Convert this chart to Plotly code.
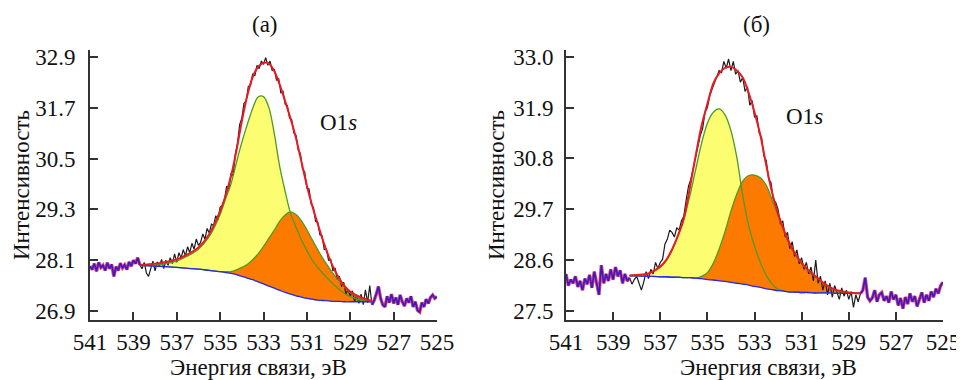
import plotly.graph_objects as go

# ---------------- data: panel (а) ----------------
start_a = 541.0
step = 0.1
noisy_a = [
    27.96, 27.88, 28.02, 27.84, 28.05, 27.93, 27.98, 27.86, 28.04, 27.90,
    28.00, 27.72, 27.95, 27.86, 28.03, 27.92, 27.99, 27.88, 28.06, 27.96,
    28.10, 28.02, 28.16, 27.99, 27.90, 28.05, 27.80, 27.72, 27.92, 28.08,
    27.85, 28.06, 27.95, 28.12, 27.90, 28.10, 27.98, 28.16, 28.02, 28.25,
    28.05, 28.28, 28.15, 28.35, 28.20, 28.42, 28.28, 28.50, 28.36, 28.60,
    28.45, 28.52, 28.72, 28.60, 28.85, 28.74, 28.95, 28.92, 29.15, 29.05,
    29.35, 29.40, 29.52, 29.85, 29.78, 30.15, 30.10, 30.60, 30.85, 31.30,
    31.45, 31.80, 31.85, 32.20, 32.22, 32.50, 32.45, 32.70, 32.62, 32.80,
    32.72, 32.88, 32.70, 32.80, 32.58, 32.60, 32.35, 32.38, 32.05, 32.08,
    31.78, 31.75, 31.45, 31.42, 31.10, 31.05, 30.70, 30.62, 30.25, 30.18,
    29.80, 29.78, 29.42, 29.35, 29.02, 29.00, 28.70, 28.68, 28.35, 28.36,
    28.10, 28.12, 27.85, 27.92, 27.65, 27.72, 27.48, 27.58, 27.30, 27.42,
    27.25, 27.38, 27.12, 27.28, 27.08, 27.30, 27.05, 27.40, 27.10, 27.50,
    27.05, 27.15, 27.30, 27.48, 27.20, 27.05, 27.00, 27.25, 27.10, 27.30,
    27.08, 27.22, 27.05, 27.28, 27.12, 27.02, 27.20, 27.10, 27.25, 27.00,
    27.12, 26.92, 26.88, 27.10, 27.00, 27.18, 27.08, 27.22, 27.28, 27.20,
    27.24,
]
fit_lo_a, fit_hi_a = 528.0, 538.7

energy_fit_a = [538.7, 538.0, 537.5, 537.0, 536.5, 536.0, 535.5, 535.0, 534.75, 534.5,
                534.25, 534.0, 533.75, 533.5, 533.25, 533.0, 532.75, 532.5, 532.25, 532.0,
                531.75, 531.5, 531.25, 531.0, 530.75, 530.5, 530.25, 530.0, 529.75, 529.5,
                529.25, 529.0, 528.5, 528.0]
background_a = [27.98, 27.96, 27.95, 27.93, 27.91, 27.89, 27.86, 27.83, 27.81, 27.79,
                27.76, 27.72, 27.68, 27.64, 27.59, 27.54, 27.49, 27.44, 27.39, 27.34,
                27.30, 27.26, 27.23, 27.20, 27.18, 27.16, 27.15, 27.14, 27.13, 27.13,
                27.12, 27.12, 27.12, 27.12]
peak1_a = [27.98, 27.99, 28.02, 28.08, 28.20, 28.36, 28.66, 29.18, 29.55, 29.90,
           30.40, 30.88, 31.30, 31.68, 31.95, 31.96, 31.70, 31.08, 30.30, 29.72,
           29.20, 28.88, 28.58, 28.33, 28.10, 27.93, 27.78, 27.65, 27.52, 27.41,
           27.31, 27.24, 27.15, 27.12]
peak2_a = [27.98, 27.96, 27.95, 27.93, 27.91, 27.89, 27.86, 27.83, 27.83, 27.83,
           27.87, 27.93, 28.00, 28.11, 28.25, 28.42, 28.62, 28.81, 29.02, 29.17,
           29.24, 29.18, 29.03, 28.82, 28.58, 28.35, 28.13, 27.94, 27.76, 27.60,
           27.46, 27.34, 27.18, 27.12]
envelope_a = [27.99, 28.02, 28.06, 28.12, 28.24, 28.40, 28.72, 29.26, 29.62, 30.08,
              30.68, 31.38, 31.98, 32.42, 32.66, 32.76, 32.74, 32.56, 32.24, 31.85,
              31.44, 30.98, 30.42, 29.86, 29.38, 28.96, 28.55, 28.20, 27.90, 27.66,
              27.48, 27.36, 27.22, 27.14]
yticks_a = [26.9, 28.1, 29.3, 30.5, 31.7, 32.9]
ytext_a = ["26.9", "28.1", "29.3", "30.5", "31.7", "32.9"]

# ---------------- data: panel (б) ----------------
start_b = 541.0
noisy_b = [
    28.30, 28.05, 28.18, 28.10, 28.25, 28.02, 28.15, 27.95, 28.20, 28.08,
    28.28, 28.00, 28.35, 28.12, 27.85, 28.49, 28.10, 28.30, 28.15, 28.40,
    28.18, 28.45, 28.25, 28.38, 28.10, 28.30, 28.15, 28.22, 28.08, 28.18,
    28.25, 28.10, 27.95, 28.13, 28.35, 28.20, 28.40, 28.30, 28.55, 28.42,
    28.55, 28.62, 28.95, 29.05, 29.25, 29.20, 29.10, 29.30, 29.25, 29.45,
    29.55, 29.90, 30.20, 30.35, 30.60, 30.85, 31.05, 31.30, 31.45, 31.80,
    31.90, 32.15, 32.30, 32.42, 32.55, 32.70, 32.65, 32.90, 32.75, 32.95,
    32.70, 32.90, 32.62, 32.70, 32.45, 32.55, 32.25, 32.35, 31.95, 32.05,
    31.70, 31.72, 31.35, 31.25, 30.85, 30.75, 30.35, 30.28, 29.90, 29.85,
    29.70, 29.38, 29.45, 29.10, 29.20, 28.85, 29.00, 28.68, 28.82, 28.52,
    28.65, 28.40, 28.55, 28.30, 28.45, 28.15, 28.60, 28.10, 28.25, 27.95,
    28.15, 27.85, 28.10, 27.80, 28.05, 27.90, 27.75, 28.00, 27.82, 27.95,
    27.75, 27.92, 27.58, 27.85, 27.70, 27.88, 27.95, 28.22, 27.80, 27.72,
    27.78, 27.95, 27.70, 27.85, 27.90, 27.72, 27.82, 27.68, 27.92, 27.75,
    27.85, 27.62, 27.78, 27.55, 27.80, 27.65, 27.88, 27.70, 27.82, 27.60,
    27.75, 27.90, 27.68, 27.85, 27.72, 27.92, 27.80, 27.98, 27.88, 28.05,
    28.12,
]
fit_lo_b, fit_hi_b = 528.5, 538.3

energy_fit_b = [538.3, 538.0, 537.5, 537.0, 536.75, 536.5, 536.25, 536.0, 535.75, 535.5,
                535.25, 535.0, 534.75, 534.5, 534.25, 534.0, 533.75, 533.5, 533.25, 533.0,
                532.75, 532.5, 532.25, 532.0, 531.75, 531.5, 531.25, 531.0, 530.75, 530.5,
                530.25, 530.0, 529.75, 529.5, 529.0, 528.5]
background_b = [28.26, 28.26, 28.25, 28.24, 28.24, 28.23, 28.23, 28.22, 28.22, 28.21,
                28.20, 28.18, 28.17, 28.15, 28.14, 28.12, 28.10, 28.08, 28.06, 28.03,
                28.01, 27.98, 27.96, 27.94, 27.93, 27.91, 27.91, 27.90, 27.90, 27.89,
                27.89, 27.89, 27.89, 27.88, 27.88, 27.88]
peak1_b = [28.27, 28.28, 28.31, 28.45, 28.59, 28.82, 29.12, 29.48, 29.98, 30.55,
           31.12, 31.56, 31.80, 31.87, 31.74, 31.40, 30.82, 30.00, 29.35, 28.90,
           28.55, 28.27, 28.08, 27.97, 27.93, 27.91, 27.91, 27.90, 27.90, 27.89,
           27.89, 27.89, 27.89, 27.88, 27.88, 27.88]
peak2_b = [28.26, 28.26, 28.25, 28.24, 28.24, 28.23, 28.23, 28.22, 28.22, 28.21,
           28.25, 28.33, 28.53, 28.84, 29.22, 29.66, 30.03, 30.31, 30.43, 30.44,
           30.38, 30.22, 29.90, 29.56, 29.22, 28.93, 28.70, 28.52, 28.38, 28.27,
           28.17, 28.07, 27.99, 27.93, 27.89, 27.88]
envelope_b = [28.27, 28.28, 28.31, 28.46, 28.60, 28.83, 29.13, 29.50, 30.15, 30.85,
              31.50, 31.98, 32.42, 32.64, 32.76, 32.78, 32.70, 32.55, 32.22, 31.80,
              31.30, 30.65, 30.05, 29.60, 29.25, 28.95, 28.72, 28.54, 28.40, 28.29,
              28.18, 28.08, 28.00, 27.95, 27.90, 27.88]
yticks_b = [27.5, 28.6, 29.7, 30.8, 31.9, 33.0]
ytext_b = ["27.5", "28.6", "29.7", "30.8", "31.9", "33.0"]

xticks = [541, 539, 537, 535, 533, 531, 529, 527, 525]

# ---------------- styling ----------------
SERIF = "Liberation Serif"
C_AX = "#333333"
C_YEL = "#fdfd72"
C_ORG = "#fd7a00"
C_GRN = "#4f9a22"
C_RED = "#ea1a22"
C_BLU = "#2626ee"
C_BLK = "#1c1c1c"
C_PUR = "#3a18cc"

# the page body adds an 8 px margin; the figure is sized/placed to compensate
OFF = 8
W, H = 964 - OFF, 380 - OFF


def fx(p):  # page pixel x -> paper fraction
    return (p - OFF) / W


def fy(p):  # page pixel y -> paper fraction
    return (H + OFF - p) / H


fig = go.Figure()


def add_panel(fig, noisy, start, lo, hi, E, bg, p1, p2, env, xa, ya):
    energies = [round(start - i * step, 2) for i in range(len(noisy))]
    left_x = [e for e in energies if e >= hi - 1e-6]
    left_y = [v for e, v in zip(energies, noisy) if e >= hi - 1e-6]
    mid_x = [e for e in energies if lo - 1e-6 <= e <= hi + 1e-6]
    mid_y = [v for e, v in zip(energies, noisy) if lo - 1e-6 <= e <= hi + 1e-6]
    right_x = [e for e in energies if e <= lo + 1e-6]
    right_y = [v for e, v in zip(energies, noisy) if e <= lo + 1e-6]

    sp = dict(shape="spline", smoothing=0.9)
    common = dict(xaxis=xa, yaxis=ya, showlegend=False, hoverinfo="skip", mode="lines")
    fig.add_trace(go.Scatter(x=E, y=bg, line=dict(width=0, **sp), **common))
    fig.add_trace(go.Scatter(x=E, y=p1, fill="tonexty", fillcolor=C_YEL,
                             line=dict(width=0, **sp), **common))
    fig.add_trace(go.Scatter(x=E, y=bg, line=dict(width=0, **sp), **common))
    fig.add_trace(go.Scatter(x=E, y=p2, fill="tonexty", fillcolor=C_ORG,
                             line=dict(width=0, **sp), **common))
    fig.add_trace(go.Scatter(x=mid_x, y=mid_y, line=dict(color=C_BLK, width=1.2), **common))
    fig.add_trace(go.Scatter(x=E, y=p1, line=dict(color=C_GRN, width=1.3, **sp), **common))
    fig.add_trace(go.Scatter(x=E, y=p2, line=dict(color=C_GRN, width=1.3, **sp), **common))
    fig.add_trace(go.Scatter(x=E, y=bg, line=dict(color=C_BLU, width=1.3, **sp), **common))
    fig.add_trace(go.Scatter(x=E, y=env, line=dict(color=C_RED, width=2.0, **sp), **common))
    for xs, ys in ((left_x, left_y), (right_x, right_y)):
        fig.add_trace(go.Scatter(x=xs, y=ys, line=dict(color="rgba(232,40,70,0.85)", width=3.4), **common))
        fig.add_trace(go.Scatter(x=xs, y=ys, line=dict(color=C_PUR, width=1.7), **common))


add_panel(fig, noisy_a, start_a, fit_lo_a, fit_hi_a, energy_fit_a, background_a,
          peak1_a, peak2_a, envelope_a, "x", "y")
add_panel(fig, noisy_b, start_b, fit_lo_b, fit_hi_b, energy_fit_b, background_b,
          peak1_b, peak2_b, envelope_b, "x2", "y2")

ydom = [fy(320), fy(50)]
axis_common = dict(showline=True, linecolor=C_AX, linewidth=2, showgrid=False, zeroline=False,
                   ticks="inside", ticklen=8, tickwidth=1.5, tickcolor=C_AX, automargin=False,
                   tickfont=dict(family=SERIF, size=23, color="#111111"))

fig.update_layout(
    width=W, height=H,
    margin=dict(l=0, r=0, t=0, b=0, autoexpand=False),
    paper_bgcolor="white", plot_bgcolor="white",
    showlegend=False,
    xaxis=dict(domain=[fx(90), fx(437)], range=[541, 525], tickvals=xticks,
               anchor="y", ticklabelstandoff=0, **axis_common),
    yaxis=dict(domain=ydom, range=[26.69, 33.06], tickvals=yticks_a, ticktext=ytext_a,
               anchor="x", ticklabelstandoff=8, **axis_common),
    xaxis2=dict(domain=[fx(566), fx(943)], range=[541, 525], tickvals=xticks,
                anchor="y2", ticklabelstandoff=0, **axis_common),
    yaxis2=dict(domain=ydom, range=[27.305, 33.145], tickvals=yticks_b, ticktext=ytext_b,
                anchor="x2", ticklabelstandoff=6, **axis_common),
)

font_t = dict(family=SERIF, size=23, color="#111111")
ann = [
    dict(text="(а)", x=fx(265), y=fy(25)),
    dict(text="(б)", x=fx(756), y=fy(25)),
    dict(text="Энергия связи, эВ", x=fx(258), y=fy(367)),
    dict(text="Энергия связи, эВ", x=fx(768), y=fy(367)),
    dict(text="Интенсивность", x=fx(21), y=fy(185), textangle=-90),
    dict(text="Интенсивность", x=fx(496), y=fy(185), textangle=-90),
    dict(text="O1<i>s</i>", x=fx(338), y=fy(123)),
    dict(text="O1<i>s</i>", x=fx(804), y=fy(117)),
]
for a in ann:
    fig.add_annotation(xref="paper", yref="paper", showarrow=False,
                       xanchor="center", yanchor="middle", font=font_t, **a)

fig.write_html("out.html")
